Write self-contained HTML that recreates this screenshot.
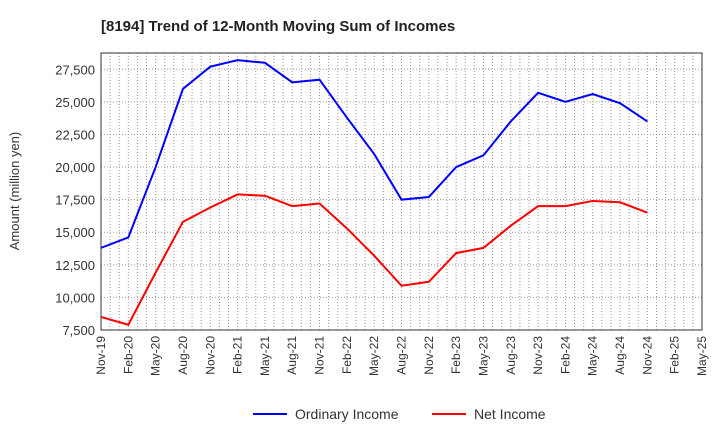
<!DOCTYPE html>
<html><head><meta charset="utf-8"><style>body{margin:0;background:#fff}svg{font-family:"Liberation Sans",sans-serif}</style></head>
<body>
<svg id="c" width="720" height="440" xmlns="http://www.w3.org/2000/svg">
<text x="101" y="31" font-size="15" font-weight="bold" fill="#222">[8194]  Trend of 12-Month Moving Sum of Incomes</text>
<g id="grid"></g><g id="axes"></g><g id="series"></g>
<text transform="translate(19,191) rotate(-90)" text-anchor="middle" font-size="13" fill="#333">Amount (million yen)</text>
<g>
<line x1="253" y1="414" x2="287" y2="414" stroke="#0000ff" stroke-width="2"/>
<text x="295" y="419" font-size="14" fill="#333">Ordinary Income</text>
<line x1="432" y1="414" x2="466" y2="414" stroke="#ff0000" stroke-width="2"/>
<text x="474" y="419" font-size="14" fill="#333">Net Income</text>
</g>
</svg>
<script>
const categories=["Nov-19","Feb-20","May-20","Aug-20","Nov-20","Feb-21","May-21","Aug-21","Nov-21","Feb-22","May-22","Aug-22","Nov-22","Feb-23","May-23","Aug-23","Nov-23","Feb-24","May-24","Aug-24","Nov-24","Feb-25","May-25"];
const ordinaryIncome=[13800,14600,20000,26000,27700,28200,28000,26500,26700,23800,21000,17500,17700,20000,20900,23500,25700,25000,25600,24900,23500];
const netIncome=[8500,7900,11900,15800,16900,17900,17800,17000,17200,15300,13200,10900,11200,13400,13800,15500,17000,17000,17400,17300,16500];
const yTicks=[7500,10000,12500,15000,17500,20000,22500,25000,27500];
const NS="http://www.w3.org/2000/svg";
const L=101,R=702,T=53,B=330,ymin=7500,ymax=28750;
const x=i=>L+(R-L)*i/(categories.length-1);
const y=v=>B-(v-ymin)/(ymax-ymin)*(B-T);
function mk(p,t,a){const e=document.createElementNS(NS,t);for(const k in a)e.setAttribute(k,a[k]);p.appendChild(e);return e;}
const g=document.getElementById('grid'),ax=document.getElementById('axes'),s=document.getElementById('series');
for(let m=1;m<(categories.length-1)*3;m++){const xx=L+(R-L)*m/((categories.length-1)*3);
const l=mk(g,'line',{x1:xx,x2:xx,y1:T,y2:B,stroke:'#999','stroke-dasharray':'1,2','stroke-width':1});

}
yTicks.forEach(v=>{const l=mk(g,'line',{x1:L,x2:R,y1:y(v),y2:y(v),stroke:'#999','stroke-dasharray':'1,2'});


const t=mk(ax,'text',{x:L-6,y:y(v)+5,'text-anchor':'end','font-size':13,fill:'#333'});t.textContent=v.toLocaleString('en-US');

});
const fr=mk(ax,'rect',{x:L,y:T,width:R-L,height:B-T,fill:'none',stroke:'#333'});


categories.forEach((c,i)=>{const t=mk(ax,'text',{transform:`translate(${x(i)+4},${B+6}) rotate(-90)`,'text-anchor':'end','font-size':12,fill:'#333'});t.textContent=c;

});
function line(d,col,name){const p=mk(s,'polyline',{points:d.map((v,i)=>x(i)+','+y(v)).join(' '),fill:'none',stroke:col,'stroke-width':2});

}
line(ordinaryIncome,'#0000ff','ordinary-income-line');
line(netIncome,'#ff0000','net-income-line');
</script>
</body></html>
